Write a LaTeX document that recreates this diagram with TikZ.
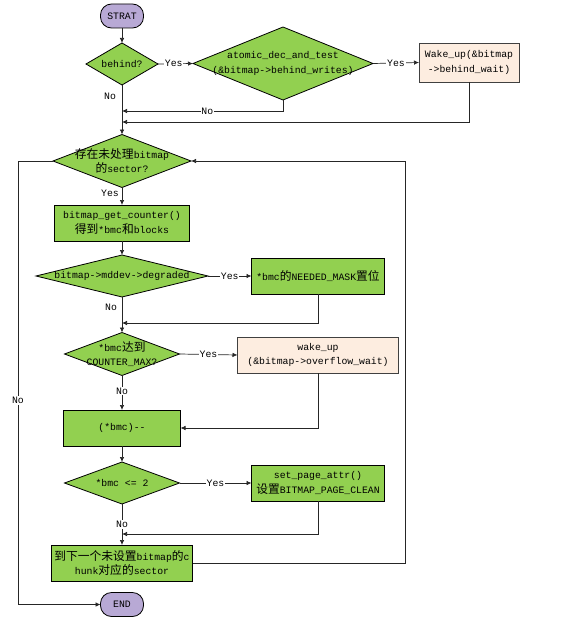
\documentclass[tikz,border=0pt]{standalone}
\usepackage{fontspec}
\setmainfont{Liberation Mono}
\newfontfamily\cjk[Scale=1.2]{Noto Sans CJK SC}
\usetikzlibrary{arrows.meta}
\definecolor{gfill}{HTML}{92D050}
\definecolor{pfill}{HTML}{FDEDE0}
\definecolor{lfill}{HTML}{B8A9D5}
\definecolor{lnc}{HTML}{262626}
\newcommand\dnode[6]{%
  \node[dbox, minimum width=#4pt, minimum height=#5pt] (#1) at (#2,#3) {};
  \path[dshape] (#1.north) -- (#1.east) -- (#1.south) -- (#1.west) -- cycle;
  \node[dtext] (#1t) at (#1.center) {#6};}
\begin{document}
\begin{tikzpicture}[x=1pt,y=-1pt,
  font=\fontsize{9.8}{14.5}\selectfont,
  dbox/.style={rectangle, inner sep=0pt, outer sep=0pt, draw=none},
  dshape/.style={draw=black, line width=0.8pt, fill=gfill, line join=miter},
  dtext/.style={align=center, inner sep=0pt},
  gbox/.style={rectangle, draw=black, line width=0.8pt, fill=gfill, align=center, inner sep=1pt, outer sep=0pt},
  pbox/.style={rectangle, draw=black!75, line width=0.8pt, fill=pfill, align=center, inner sep=1pt, outer sep=0pt},
  term/.style={rectangle, rounded corners=11pt, draw=black, line width=0.8pt, fill=lfill, inner sep=0pt, outer sep=0pt, minimum width=43pt, minimum height=24pt},
  arr/.style={draw=lnc, line width=0.7pt, -{Latex[length=5pt,width=4.5pt]}},
  lbl/.style={fill=white, inner sep=0.8pt}]
\useasboundingbox (0,0) rectangle (564,623);

% nodes
\node[term] (start) at (122,16) {STRAT};
\dnode{behind}{122}{64}{72}{42}{behind?}
\dnode{atomic}{283}{63.5}{180}{73}{atomic\_dec\_and\_test\\(\&bitmap->behind\_writes)}
\node[pbox, minimum width=100pt, minimum height=39pt] (wake1) at (469,62.5) {Wake\_up(\&bitmap\\->behind\_wait)};
\dnode{sector}{122}{161}{138}{53}{{\cjk 存在未处理}bitmap\\{\cjk 的}sector?}
\node[gbox, minimum width=135pt, minimum height=36pt] (getc) at (122,223) {bitmap\_get\_counter()\\{\cjk 得到}*bmc{\cjk 和}blocks};
\dnode{degr}{122}{276}{172}{42}{bitmap->mddev->degraded}
\node[gbox, minimum width=133pt, minimum height=36pt] (needed) at (318,276) {*bmc{\cjk 的}NEEDED\_MASK{\cjk 置位}};
\dnode{cmax}{122}{354}{115}{43}{*bmc{\cjk 达到}\\COUNTER\_MAX?}
\node[pbox, minimum width=161pt, minimum height=36pt] (wake2) at (318,355) {wake\_up\\(\&bitmap->overflow\_wait)};
\node[gbox, minimum width=117pt, minimum height=36pt] (dec) at (122,428) {(*bmc)-{}-};
\dnode{le}{122}{483}{115}{42}{*bmc <= 2}
\node[gbox, minimum width=133pt, minimum height=36pt] (spa) at (318,483) {set\_page\_attr()\\{\cjk 设置}BITMAP\_PAGE\_CLEAN};
\node[gbox, minimum width=141pt, minimum height=36pt] (next) at (122,563) {{\cjk 到下一个未设置}bitmap{\cjk 的}c\\hunk{\cjk 对应的}sector};
\node[term] (end) at (122,604.5) {END};

% helper coordinates
\coordinate (m1) at (122,111);
\coordinate (m2) at (122,122);
\coordinate (c1) at (283,111);
\coordinate (c2) at (469,122);
\coordinate (m3) at (122,323);
\coordinate (c3) at (318,323);
\coordinate (c4) at (318,428);
\coordinate (m5) at (122,534);
\coordinate (c5) at (318,534);
\coordinate (r1) at (405,563);
\coordinate (r2) at (405,161);
\coordinate (l1) at (18,161);
\coordinate (l2) at (18,604.5);

% connectors
\draw[arr] (start.south) -- (behind.north);
\draw[arr] (behind.east) -- node[lbl, pos=0.45] (y1) {Yes} (atomic.west);
\draw[arr] (atomic.east) -- node[lbl, pos=0.5] (y2) {Yes} (wake1.west);
\draw[arr] (behind.south) -- (sector.north);
\node (n1) at (110,96) {No};
\draw[arr] (atomic.south) -- (c1) -- node[lbl, pos=0.47] (n2) {No} (m1);
\draw[arr] (wake1.south) -- (c2) -- (m2);

\draw[arr] (sector.south) -- (getc.north);
\node (y3) at (110,193) {Yes};
\draw[arr] (getc.south) -- (degr.north);
\draw[arr] (degr.east) -- node[lbl, pos=0.5] (y4) {Yes} (needed.west);
\draw[arr] (degr.south) -- (cmax.north);
\node (n3) at (111,307) {No};
\draw[arr] (needed.south) -- (c3) -- (m3);
\draw[arr] (cmax.east) -- node[lbl, pos=0.5] (y5) {Yes} (wake2.west);
\draw[arr] (cmax.south) -- node[lbl, pos=0.45] (n4) {No} (dec.north);
\draw[arr] (wake2.south) -- (c4) -- (dec.east);
\draw[arr] (dec.south) -- (le.north);
\draw[arr] (le.east) -- node[lbl, pos=0.5] (y6) {Yes} (spa.west);
\draw[arr] (le.south) -- node[lbl, pos=0.5] (n5) {No} (next.north);
\draw[arr] (spa.south) -- (c5) -- (m5);
\draw[arr] (next.east) -- (r1) -- (r2) -- (sector.east);
\draw[arr] (sector.west) -- (l1) -- node[lbl, pos=0.54] (n6) {No} (l2) -- (end.west);
\end{tikzpicture}
\end{document}
